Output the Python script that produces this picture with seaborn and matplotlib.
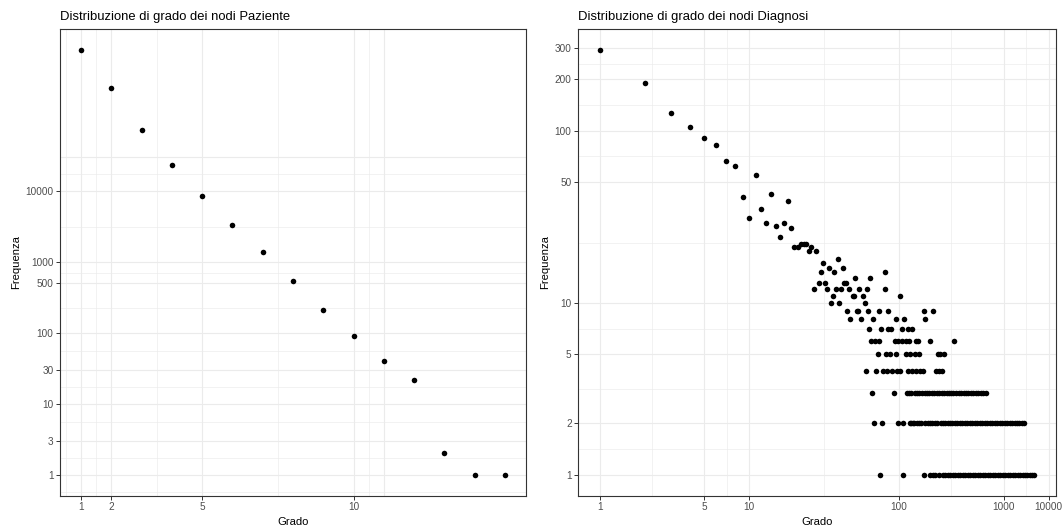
import matplotlib
matplotlib.use("Agg")
import matplotlib.pyplot as plt
from matplotlib.ticker import NullFormatter
import numpy as np
import pandas as pd
import seaborn as sns


# ── Dati: nodi Paziente ──────────────────────────────────────────────────────
paz_grado = [1, 2, 3, 4, 5, 6, 7, 8, 9, 10, 11, 12, 13, 14, 15]
paz_freq = [970000, 284000, 72000, 23100, 8600, 3300, 1400, 540, 211, 91,
            40, 22, 2, 1, 1]

# ── Dati: nodi Diagnosi (frequenze >= 4) ─────────────────────────────────────
diag_grado = [1, 2, 3, 4, 5, 6, 7, 8, 9, 10, 11, 12, 13, 14, 15, 16, 17, 18,
              19, 20, 21, 22, 23, 24, 25, 26, 27, 28, 29, 30, 31, 32, 33, 34,
              35, 36, 37, 38, 39, 40, 41, 42, 43, 44, 45, 46, 47, 49, 50, 51,
              52, 53, 54, 56, 57, 59, 60, 61, 62, 63, 64, 65, 67, 69, 70, 72,
              73, 74, 76, 78, 80, 81, 82, 83, 84, 85, 87, 89, 90, 94, 95, 96,
              97, 99, 101, 102, 104, 105, 108, 111, 112, 114, 115, 116, 119,
              122, 123, 127, 129, 130, 133, 135, 138, 144, 146, 148, 160, 168,
              177, 182, 185, 188, 195, 201, 232]
diag_freq = [293, 190, 126, 105, 91, 83, 67, 62, 41, 31, 55, 35, 29, 43, 28,
             24, 29, 39, 27, 21, 21, 22, 22, 22, 20, 21, 12, 20, 13, 15, 17,
             13, 12, 16, 10, 11, 15, 12, 18, 10, 12, 16, 13, 13, 9, 12, 8, 11,
             11, 14, 9, 9, 12, 8, 11, 10, 4, 12, 9, 7, 14, 6, 8, 6, 4, 5, 9, 6,
             7, 4, 12, 15, 5, 4, 7, 9, 5, 7, 4, 6, 8, 5, 4, 6, 11, 4, 6, 7, 8,
             6, 5, 4, 7, 6, 5, 7, 4, 5, 6, 4, 6, 5, 4, 4, 9, 8, 6, 9, 4, 5, 4,
             5, 4, 5, 6]

# gradi con frequenza 3, 2 e 1
diag_grado_f3 = [66, 93, 113, 117, 121, 128, 132, 137, 142, 150, 154, 158, 166,
                 172, 179, 186, 193, 200, 208, 216, 224, 230, 241, 250, 260,
                 270, 280, 291, 302, 314, 326, 338, 351, 365, 383]
diag_grado_f2 = [68, 77, 98, 107, 118, 120, 124, 126, 131, 136, 140, 149, 155,
                 161, 167, 174, 180, 190, 196, 203, 211, 219, 227, 236, 245,
                 255, 265, 275, 286, 297, 309, 321, 333, 346, 360, 374, 388,
                 403, 419, 435, 452, 470, 488, 507, 527, 548, 569, 591, 614,
                 638, 663, 687]
diag_grado_f1 = [75, 106, 147, 162, 169, 175, 184, 197, 204, 212, 220, 228,
                 237, 246, 256, 266, 277, 288, 299, 311, 323, 336, 349, 363,
                 377, 392, 407, 423, 440, 457, 475, 494, 513, 533, 554, 576,
                 598, 621, 645, 670, 695, 721, 748, 775, 801]

# ── Tick ─────────────────────────────────────────────────────────────────────
paz_x_ticks = [1, 2, 5, 10]
paz_y_ticks = [1, 3, 10, 30, 100, 500, 1000, 10000]
diag_x_ticks = [1, 5, 10, 100, 500, 1000]
diag_x_labels = ["1", "5", "10", "100", "1000", "10000"]
diag_y_ticks = [1, 2, 5, 10, 50, 100, 200, 300]

# ── Stile ────────────────────────────────────────────────────────────────────
GRID = "#EBEBEB"
BORDER = "#333333"
TICK_TXT = "#4D4D4D"
W, H = 1062, 531

sns.set_style("white")
plt.rcParams["font.family"] = ["Liberation Sans", "DejaVu Sans"]


def log_midpoints(vals):
    v = np.log10(vals)
    return list(10 ** ((v[:-1] + v[1:]) / 2))


def log_limits(vals, pad=0.05):
    lo, hi = np.log10(min(vals)), np.log10(max(vals))
    d = (hi - lo) * pad
    return 10 ** (lo - d), 10 ** (hi + d)


def style_panel(ax, title):
    ax.xaxis.set_minor_formatter(NullFormatter())
    ax.yaxis.set_minor_formatter(NullFormatter())
    ax.set_title(title, loc="left", fontsize=9.4, color="black", pad=6.5)
    ax.set_xlabel("Grado", fontsize=8.1, color="black", labelpad=3.5)
    ax.set_ylabel("Frequenza", fontsize=8.1, color="black", labelpad=3.5)
    ax.tick_params(which="major", length=2.6, width=0.7, color=BORDER,
                   labelsize=7.2, labelcolor=TICK_TXT, pad=2,
                   bottom=True, left=True)
    ax.tick_params(which="minor", length=0)
    ax.grid(which="major", color=GRID, linewidth=0.8)
    ax.grid(which="minor", color=GRID, linewidth=0.45)
    ax.set_axisbelow(True)
    for sp in ax.spines.values():
        sp.set_color(BORDER)
        sp.set_linewidth(0.8)


fig = plt.figure(figsize=(W / 100, H / 100), dpi=100)
fig.patch.set_facecolor("white")

ax1 = fig.add_axes([60 / W, 1 - 496 / H, 466 / W, 467 / H])
ax2 = fig.add_axes([578 / W, 1 - 496 / H, 478 / W, 467 / H])

# ── Pannello Paziente ────────────────────────────────────────────────────────
df_paz = pd.DataFrame({"grado": paz_grado, "freq": paz_freq})
sns.scatterplot(data=df_paz, x="grado", y="freq", ax=ax1, color="black",
                s=16, linewidth=0, zorder=3)
ax1.set_yscale("log")
xr = max(paz_grado) - min(paz_grado)
ax1.set_xlim(min(paz_grado) - 0.05 * xr, max(paz_grado) + 0.05 * xr)
ax1.set_ylim(*log_limits(paz_freq))
ax1.set_xticks(paz_x_ticks, [str(t) for t in paz_x_ticks])
ax1.set_xticks([0.5, 1.5, 3.5, 7.5, 10.5], minor=True)
ax1.axvline(11, color=GRID, linewidth=0.8, zorder=0)
ax1.set_yticks(paz_y_ticks, [str(t) for t in paz_y_ticks])
ax1.set_yticks(log_midpoints([1 / 3] + paz_y_ticks + [30000]), minor=True)
ax1.axhline(30000, color=GRID, linewidth=0.8, zorder=0)
style_panel(ax1, "Distribuzione di grado dei nodi Paziente")

# ── Pannello Diagnosi ────────────────────────────────────────────────────────
df_diag = pd.concat([
    pd.DataFrame({"grado": diag_grado, "freq": diag_freq}),
    pd.DataFrame({"grado": diag_grado_f3, "freq": 3}),
    pd.DataFrame({"grado": diag_grado_f2, "freq": 2}),
    pd.DataFrame({"grado": diag_grado_f1, "freq": 1}),
], ignore_index=True)
sns.scatterplot(data=df_diag, x="grado", y="freq", ax=ax2, color="black",
                s=16, linewidth=0, zorder=3)
ax2.set_xscale("log")
ax2.set_yscale("log")
ax2.set_xlim(*log_limits(df_diag["grado"]))
ax2.set_ylim(*log_limits(df_diag["freq"]))
ax2.set_xticks(diag_x_ticks, diag_x_labels)
ax2.set_xticks(log_midpoints(diag_x_ticks), minor=True)
ax2.set_yticks(diag_y_ticks, [str(t) for t in diag_y_ticks])
ax2.set_yticks(log_midpoints(diag_y_ticks), minor=True)
style_panel(ax2, "Distribuzione di grado dei nodi Diagnosi")

plt.savefig("out.png", dpi=100, facecolor="white")
plt.close()
